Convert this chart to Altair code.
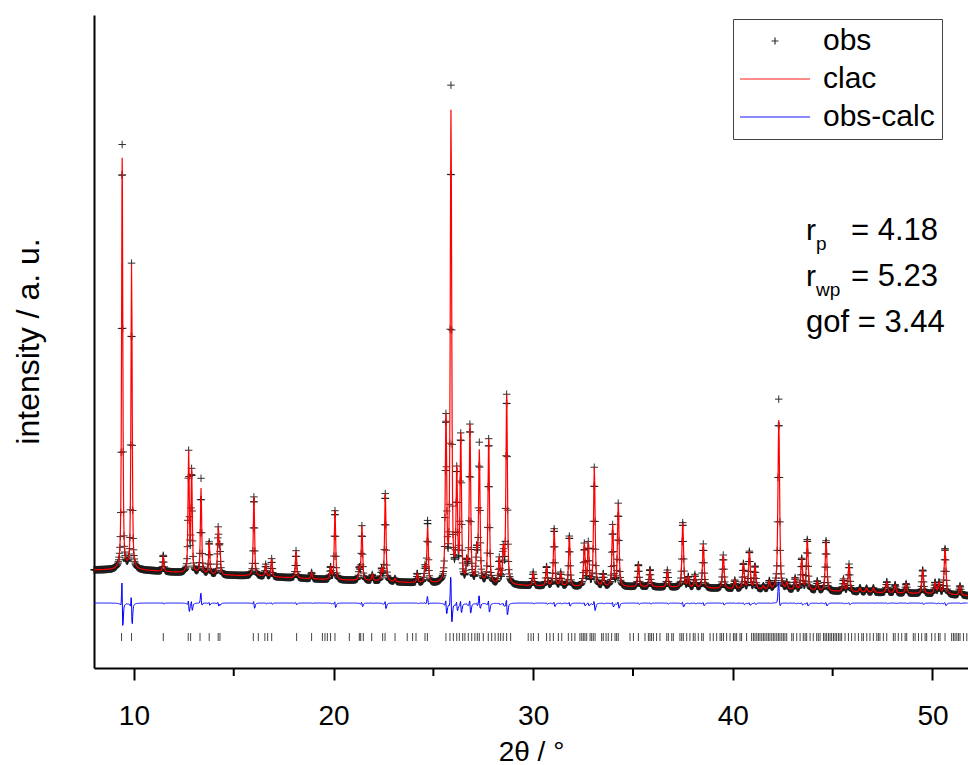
import altair as alt
import numpy as np
import pandas as pd

# ---------------- data ----------------
# reflections: 2theta position, observed net height, calculated net height (counts)
peak_pos = [9.41, 9.88, 11.47, 12.74, 12.89, 13.36, 13.77, 14.22, 14.30, 16.01,
            16.60, 16.90, 18.12, 18.90, 19.85, 20.07, 21.29, 21.42, 21.94, 22.41,
            22.59, 23.08, 24.19, 24.58, 24.71, 25.63, 25.88, 26.17, 26.37, 26.67,
            26.83, 27.17, 27.30, 27.77, 28.30, 28.50, 28.67, 30.00, 30.67, 31.05,
            31.38, 31.81, 32.56, 32.76, 33.06, 33.51, 33.98, 34.26, 35.27, 35.85,
            36.72, 37.49, 37.77, 38.10, 38.52, 39.52, 40.10, 40.53, 40.83, 41.11,
            41.53, 41.83, 42.30, 42.70, 43.12, 43.45, 43.73, 44.23, 44.67, 45.54,
            45.82, 46.37, 46.70, 47.04, 47.71, 48.13, 48.68, 49.51, 50.13, 50.33,
            50.63, 51.38]
obs_height = [4245, 3055, 160, 1196, 1010, 950, 320, 450, 260, 790,
              120, 180, 273, 63, 120, 690, 110, 543, 60, 108,
              875, 30, 90, 150, 617, 1622, 4944, 1080, 1454, 170,
              1572, 294, 1388, 1446, 250, 330, 1893, 135, 190, 572,
              135, 503, 420, 427, 1187, 120, 610, 827, 220, 170,
              170, 647, 100, 130, 440, 335, 85, 250, 373, 225,
              30, 80, 1907, 67, 120, 312, 505, 93, 503, 122,
              275, 40, 40, 45, 108, 80, 97, 235, 110, 110,
              457, 95]
calc_height = [4124, 3055, 160, 1196, 1010, 854, 320, 450, 260, 790,
               120, 180, 273, 63, 120, 690, 110, 543, 60, 108,
               875, 30, 90, 150, 555, 1622, 4704, 1080, 1454, 170,
               1572, 294, 1316, 1446, 250, 330, 1893, 135, 190, 572,
               135, 503, 420, 427, 1187, 120, 610, 827, 220, 170,
               170, 647, 100, 130, 440, 335, 85, 250, 373, 225,
               30, 80, 1700, 67, 120, 312, 505, 93, 503, 122,
               275, 40, 40, 45, 108, 80, 97, 235, 110, 110,
               457, 95]

# background level (2theta, counts)
bg_x = [8, 10, 11, 12.5, 14, 16, 18, 20, 22, 24, 25, 28, 30, 32, 36, 38, 40, 42, 44, 46, 48, 50, 52]
bg_y = [980, 980, 970, 950, 930, 920, 900, 880, 870, 850, 840, 830, 820, 810, 810, 800, 790, 780, 770, 760, 750, 740, 720]

# Bragg reflection markers (2theta)
bragg_pos = [9.38, 9.88, 11.47, 12.72, 12.84, 13.31, 13.77, 14.22, 14.31, 15.98,
             16.23, 16.56, 16.70, 16.90, 18.15, 18.90, 19.44, 19.57, 19.69, 19.85,
             20.07, 20.79, 21.29, 21.36, 21.49, 21.91, 22.46, 22.58, 23.08, 23.69,
             23.96, 24.13, 24.58, 24.70, 25.63, 25.83, 26.00, 26.17, 26.30, 26.47,
             26.58, 26.75, 26.92, 27.08, 27.20, 27.30, 27.50, 27.75, 27.92, 28.09,
             28.25, 28.37, 28.50, 28.67, 28.87, 29.75, 29.89, 30.01, 30.26, 30.67,
             30.84, 31.01, 31.26, 31.43, 31.76, 31.93, 32.09, 32.34, 32.43, 32.51,
             32.59, 32.68, 32.85, 32.93, 33.01, 33.10, 33.43, 33.51, 33.65, 33.76,
             33.93, 34.10, 34.18, 34.26, 34.85, 35.02, 35.27, 35.60, 35.77, 35.85,
             35.93, 36.02, 36.18, 36.35, 36.69, 36.77, 36.94, 37.02, 37.35, 37.44,
             37.52, 37.69, 37.85, 38.02, 38.11, 38.27, 38.44, 38.52, 38.86, 39.02,
             39.19, 39.36, 39.44, 39.53, 39.69, 39.86, 40.03, 40.11, 40.19, 40.36,
             40.44, 40.69, 40.94, 41.03, 41.11, 41.20, 41.28, 41.36, 41.45, 41.53,
             41.61, 41.70, 41.78, 41.86, 41.95, 42.03, 42.11, 42.20, 42.28, 42.36,
             42.45, 42.53, 42.61, 42.70, 42.95, 43.03, 43.20, 43.37, 43.53, 43.62,
             43.70, 43.87, 44.03, 44.20, 44.28, 44.37, 44.54, 44.62, 44.70, 44.79,
             44.87, 44.95, 45.04, 45.12, 45.20, 45.29, 45.37, 45.45, 45.62, 45.79,
             45.95, 46.12, 46.29, 46.46, 46.54, 46.71, 46.87, 47.04, 47.21, 47.29,
             47.37, 47.54, 47.71, 48.04, 48.13, 48.29, 48.46, 48.63, 48.71, 49.04,
             49.13, 49.30, 49.46, 49.63, 49.71, 49.96, 50.13, 50.30, 50.38, 50.63,
             50.96, 51.05, 51.13, 51.22, 51.30, 51.38, 51.55, 51.72]

major_ticks = [10, 20, 30, 40, 50]
minor_ticks = [15, 25, 35, 45]
series_names = ["obs", "clac", "obs-calc"]

# ---------------- profile table built from the values above ----------------
X_MIN, X_MAX = 8.0, 51.78
DIFF_OFFSET = 650
CALC_SHIFT = 0.0022
tt = np.unique(np.round(np.concatenate([np.arange(X_MIN, X_MAX, 0.02), peak_pos]), 3))
tt = tt[tt <= X_MAX]
bg = np.interp(tt, bg_x, bg_y)


def pv(x, x0, w, eta=0.6):
    d = (x - x0) / w
    return eta / (1 + 4 * d * d) + (1 - eta) * np.exp(-4 * np.log(2) * d * d)


obs = bg.copy()
calc = bg.copy()
for p, ho, hc in zip(peak_pos, obs_height, calc_height):
    w = 0.06 + 0.0008 * p
    obs += ho * pv(tt, p, w)
    calc += hc * pv(tt, p + CALC_SHIFT, w * 1.06)
diff = obs - calc + DIFF_OFFSET

obs_df = pd.DataFrame({"tt": tt, "I": obs, "series": "obs"})
calc_df = pd.DataFrame({"tt": tt, "I": calc, "series": "clac"})
diff_df = pd.DataFrame({"tt": tt, "I": diff, "series": "obs-calc"})
bragg_df = pd.DataFrame({"tt": bragg_pos, "y0": 350, "y1": 270})
minor_df = pd.DataFrame({"tt": minor_ticks})

# ---------------- chart ----------------
FONT = "Liberation Sans"

xscale = alt.Scale(domain=[X_MIN, X_MAX], nice=False, zero=False)
yscale = alt.Scale(domain=[0, 6530], nice=False, zero=False)
xaxis = alt.Axis(values=major_ticks, format="d", title="2θ / °", grid=False,
                 domainColor="black", domainWidth=2, tickColor="black", tickWidth=2,
                 tickSize=12, labelFont=FONT, labelFontSize=28, labelColor="black",
                 labelPadding=22, titleFont=FONT, titleFontSize=28, titleFontWeight="normal",
                 titleColor="black", titleY=84, titleBaseline="middle")
yaxis = alt.Axis(title="intensity / a. u.", labels=False, ticks=False, grid=False,
                 domainColor="black", domainWidth=2, titleFont=FONT, titleFontSize=32,
                 titleFontWeight="normal", titleColor="black", titleAngle=270,
                 titleX=-66, titleY=326, titleAlign="center", titleBaseline="middle")

color_scale = alt.Scale(domain=series_names, range=["#1a1a1a", "#ff0000", "#0000ff"])
PLUS = "M-0.5,0L0.5,0M0,-0.5L0,0.5"
LINE = "M-5,0L5,0"
shape_scale = alt.Scale(domain=series_names, range=[PLUS, LINE, LINE])
legend = alt.Legend(title=None, orient="none", legendX=639, legendY=4, padding=7,
                    symbolSize=196, symbolStrokeWidth=1.2, symbolOffset=20,
                    labelOffset=33, labelFont=FONT, labelFontSize=30, labelColor="black",
                    rowPadding=8, strokeColor="#444444", fillColor="white")

X = alt.X("tt:Q", scale=xscale, axis=xaxis)
Y = alt.Y("I:Q", scale=yscale, axis=yaxis)

obs_layer = alt.Chart(obs_df).mark_point(filled=False, size=225, strokeWidth=1, opacity=0.9).encode(
    x=X, y=Y,
    color=alt.Color("series:N", scale=color_scale, legend=legend),
    shape=alt.Shape("series:N", scale=shape_scale, legend=legend),
)
calc_layer = alt.Chart(calc_df).mark_line(strokeWidth=1.2).encode(
    x=X, y=Y, color=alt.Color("series:N", scale=color_scale, legend=legend))
diff_layer = alt.Chart(diff_df).mark_line(strokeWidth=1).encode(
    x=X, y=Y, color=alt.Color("series:N", scale=color_scale, legend=legend))
bragg_layer = alt.Chart(bragg_df).mark_rule(color="#444444", strokeWidth=1).encode(
    x=X, y=alt.Y("y0:Q", scale=yscale, axis=yaxis), y2="y1:Q")
minor_layer = alt.Chart(minor_df).mark_rule(color="black", strokeWidth=2).encode(
    x=X, y=alt.value(653), y2=alt.value(661))


def txt(s, x, y, size=30):
    return alt.Chart(pd.DataFrame({"t": [s]})).mark_text(
        font=FONT, fontSize=size, align="left", baseline="alphabetic", color="black"
    ).encode(text="t:N", x=alt.value(x), y=alt.value(y))


ann = [
    txt("r", 712, 225), txt("p", 722, 235, 19), txt("= 4.18", 757, 225, 31),
    txt("r", 712, 271), txt("wp", 722, 281, 19), txt("= 5.23", 757, 271, 31),
    txt("gof = 3.44", 712, 317, 31),
]

chart = alt.layer(obs_layer, calc_layer, diff_layer, bragg_layer, minor_layer, *ann).properties(
    width=874, height=653,
    autosize=alt.AutoSizeParams(type="none"),
    padding={"left": 94, "top": 15, "right": 0, "bottom": 97},
    background="white",
).configure_view(stroke=None)

chart.save("out.html", embed_options={"renderer": "svg", "actions": False})
